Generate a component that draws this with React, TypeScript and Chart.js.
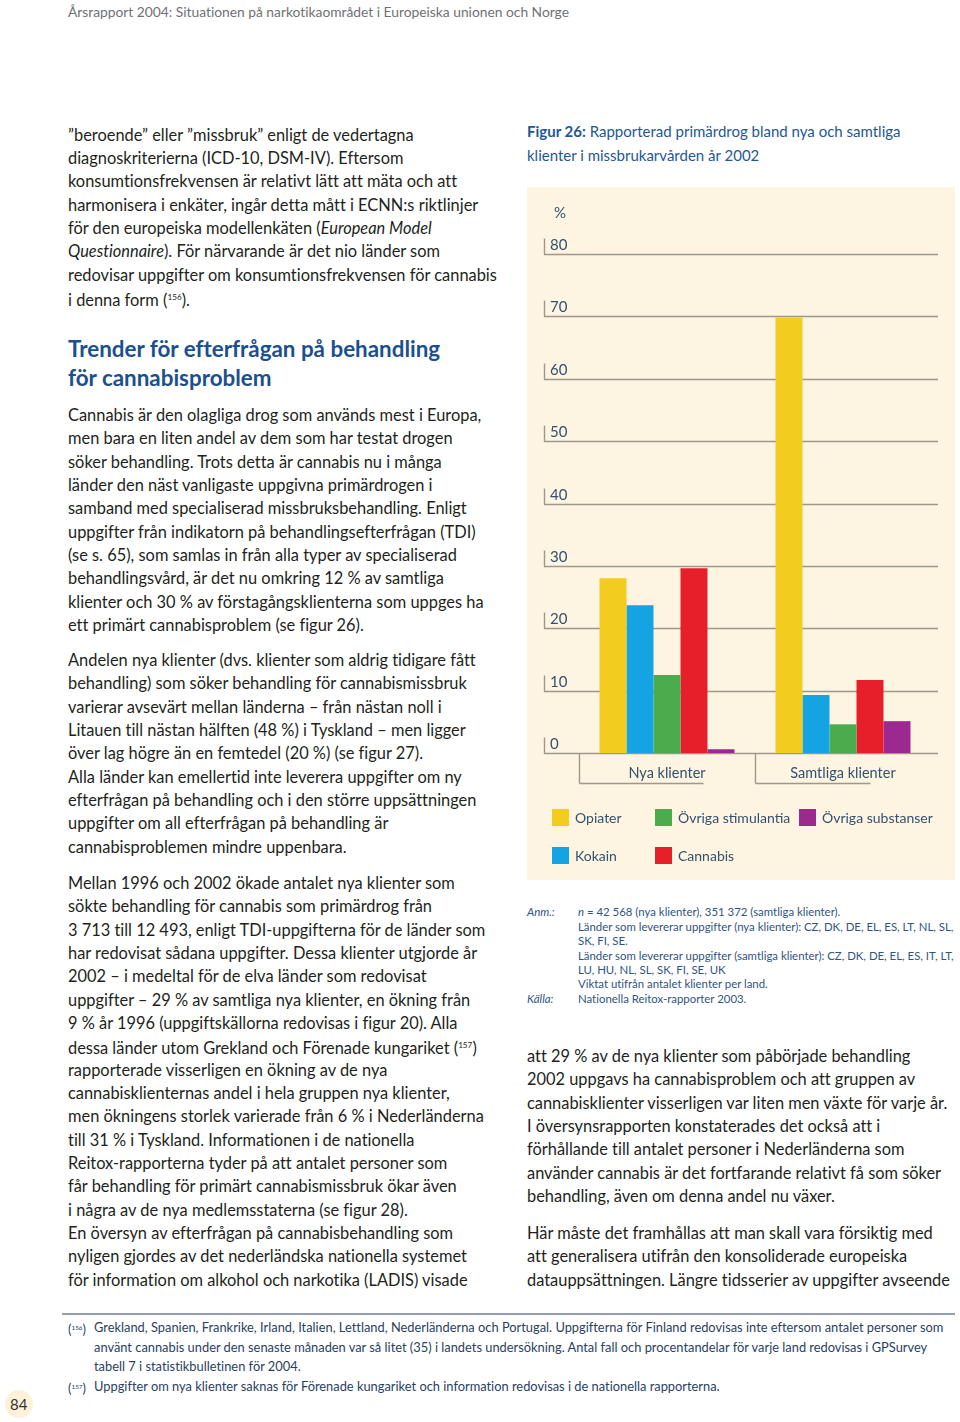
import React, { useEffect, useRef } from "react";
import { Chart, registerables } from "chart.js";

Chart.register(...registerables);

// ---------- Chart data ----------
const categories = ["Nya klienter", "Samtliga klienter"];
const seriesLabels = ["Opiater", "Kokain", "Övriga stimulantia", "Cannabis", "Övriga substanser"];
const opiater = [28.0, 69.8];
const kokain = [23.7, 9.3];
const ovrigaStimulantia = [12.5, 4.6];
const cannabis = [29.6, 11.7];
const ovrigaSubstanser = [0.6, 5.1];
const yTicks = [0, 10, 20, 30, 40, 50, 60, 70, 80];

const seriesValues = [opiater, kokain, ovrigaStimulantia, cannabis, ovrigaSubstanser];
const seriesColors = ["#f2cd1f", "#14a4e4", "#4bac4d", "#e61f2b", "#9b2990"];

const FONT = "Lato, 'Noto Sans', sans-serif";
const TICK_COLOR = "#34506e";
const GRID_COLOR = "#9d988a";

const decorPlugin = {
  id: "decor",
  beforeDatasetsDraw(chart: any) {
    const { ctx, chartArea: a, scales } = chart;
    const x = scales.x;
    const y = scales.y;
    const left = a.left - 35;
    const right = a.right + 7;
    const line = (x1: number, y1: number, x2: number, y2: number) => {
      ctx.beginPath();
      ctx.moveTo(x1, y1);
      ctx.lineTo(x2, y2);
      ctx.stroke();
    };
    ctx.save();
    ctx.strokeStyle = GRID_COLOR;
    ctx.lineWidth = 1.4;
    ctx.fillStyle = TICK_COLOR;
    ctx.font = `15px ${FONT}`;
    ctx.textBaseline = "alphabetic";
    ctx.textAlign = "left";
    yTicks.forEach((v) => {
      const py = Math.round(y.getPixelForValue(v)) + 0.5;
      line(left, py, right, py);
      line(left + 0.5, py - 16, left + 0.5, py);
      ctx.fillText(String(v), left + 6, py - 5);
    });
    ctx.fillText("%", left + 10, y.getPixelForValue(80) - 36);

    // category brackets + labels
    const y0 = Math.round(y.getPixelForValue(0)) + 0.5;
    const half = (a.right - a.left) / categories.length / 2;
    const bracketLen = [124, 115];
    ctx.font = `14.5px ${FONT}`;
    categories.forEach((c, i) => {
      const cx = x.getPixelForValue(i);
      const bx = Math.round(cx - half) + 0.5;
      const by = y0 + 30;
      line(bx, y0, bx, by);
      line(bx, by, bx + bracketLen[i], by);
      ctx.textAlign = "center";
      ctx.fillText(c, cx, y0 + 24);
    });

    // legend (column-major, 2 rows)
    const colX = [25, 128, 272];
    const rowY = [622, 660];
    ctx.textAlign = "left";
    ctx.font = `14px ${FONT}`;
    chart.data.datasets.forEach((ds: any, i: number) => {
      const col = Math.floor(i / 2);
      const row = i % 2;
      const sx = colX[col];
      const sy = rowY[row];
      ctx.fillStyle = ds.backgroundColor;
      ctx.fillRect(sx, sy, 17, 17);
      ctx.fillStyle = TICK_COLOR;
      ctx.fillText(ds.label, sx + 23, sy + 13.5);
    });
    ctx.restore();
  },
};

function ChartPanel() {
  const ref = useRef<HTMLCanvasElement>(null);
  useEffect(() => {
    const chart = new Chart(ref.current as HTMLCanvasElement, {
      type: "bar",
      data: {
        labels: categories,
        datasets: seriesLabels.map((l, i) => ({
          label: l,
          data: seriesValues[i],
          backgroundColor: seriesColors[i],
          borderWidth: 0,
          categoryPercentage: 0.767,
          barPercentage: 1,
        })),
      },
      options: {
        animation: false,
        responsive: false,
        maintainAspectRatio: false,
        devicePixelRatio: 1,
        layout: { padding: { left: 52, right: 24, top: 67, bottom: 127 } },
        scales: {
          x: { display: false, offset: true },
          y: { display: false, min: 0, max: 80 },
        },
        plugins: { legend: { display: false }, tooltip: { enabled: false } },
      },
      plugins: [decorPlugin],
    } as any);
    return () => chart.destroy();
  }, []);
  return (
    <canvas
      ref={ref}
      width={428}
      height={693}
      style={{ position: "absolute", left: 527, top: 187, width: 428, height: 693, display: "block" }}
    />
  );
}

// ---------- Page text ----------
const para1 = [
  "”beroende” eller ”missbruk” enligt de vedertagna",
  "diagnoskriterierna (ICD-10, DSM-IV). Eftersom",
  "konsumtionsfrekvensen är relativt lätt att mäta och att",
  "harmonisera i enkäter, ingår detta mått i ECNN:s riktlinjer",
  "för den europeiska modellenkäten (_European Model_",
  "_Questionnaire_). För närvarande är det nio länder som",
  "redovisar uppgifter om konsumtionsfrekvensen för cannabis",
  "i denna form (^156^).",
];
const heading = ["Trender för efterfrågan på behandling", "för cannabisproblem"];
const para2 = [
  "Cannabis är den olagliga drog som används mest i Europa,",
  "men bara en liten andel av dem som har testat drogen",
  "söker behandling. Trots detta är cannabis nu i många",
  "länder den näst vanligaste uppgivna primärdrogen i",
  "samband med specialiserad missbruksbehandling. Enligt",
  "uppgifter från indikatorn på behandlingsefterfrågan (TDI)",
  "(se s. 65), som samlas in från alla typer av specialiserad",
  "behandlingsvård, är det nu omkring 12 % av samtliga",
  "klienter och 30 % av förstagångsklienterna som uppges ha",
  "ett primärt cannabisproblem (se figur 26).",
];
const para3 = [
  "Andelen nya klienter (dvs. klienter som aldrig tidigare fått",
  "behandling) som söker behandling för cannabismissbruk",
  "varierar avsevärt mellan länderna – från nästan noll i",
  "Litauen till nästan hälften (48 %) i Tyskland – men ligger",
  "över lag högre än en femtedel (20 %) (se figur 27).",
  "Alla länder kan emellertid inte leverera uppgifter om ny",
  "efterfrågan på behandling och i den större uppsättningen",
  "uppgifter om all efterfrågan på behandling är",
  "cannabisproblemen mindre uppenbara.",
];
const para4 = [
  "Mellan 1996 och 2002 ökade antalet nya klienter som",
  "sökte behandling för cannabis som primärdrog från",
  "3 713 till 12 493, enligt TDI-uppgifterna för de länder som",
  "har redovisat sådana uppgifter. Dessa klienter utgjorde år",
  "2002 – i medeltal för de elva länder som redovisat",
  "uppgifter – 29 % av samtliga nya klienter, en ökning från",
  "9 % år 1996 (uppgiftskällorna redovisas i figur 20). Alla",
  "dessa länder utom Grekland och Förenade kungariket (^157^)",
  "rapporterade visserligen en ökning av de nya",
  "cannabisklienternas andel i hela gruppen nya klienter,",
  "men ökningens storlek varierade från 6 % i Nederländerna",
  "till 31 % i Tyskland. Informationen i de nationella",
  "Reitox-rapporterna tyder på att antalet personer som",
  "får behandling för primärt cannabismissbruk ökar även",
  "i några av de nya medlemsstaterna (se figur 28).",
  "En översyn av efterfrågan på cannabisbehandling som",
  "nyligen gjordes av det nederländska nationella systemet",
  "för information om alkohol och narkotika (LADIS) visade",
];
const para5 = [
  "att 29 % av de nya klienter som påbörjade behandling",
  "2002 uppgavs ha cannabisproblem och att gruppen av",
  "cannabisklienter visserligen var liten men växte för varje år.",
  "I översynsrapporten konstaterades det också att i",
  "förhållande till antalet personer i Nederländerna som",
  "använder cannabis är det fortfarande relativt få som söker",
  "behandling, även om denna andel nu växer.",
];
const para6 = [
  "Här måste det framhållas att man skall vara försiktig med",
  "att generalisera utifrån den konsoliderade europeiska",
  "datauppsättningen. Längre tidsserier av uppgifter avseende",
];
const figTitle = ["~Figur 26:~ Rapporterad primärdrog bland nya och samtliga", "klienter i missbrukarvården år 2002"];
const noteLines = [
  "_n_ = 42 568 (nya klienter), 351 372 (samtliga klienter).",
  "Länder som levererar uppgifter (nya klienter): CZ, DK, DE, EL, ES, LT, NL, SL,",
  "SK, FI, SE.",
  "Länder som levererar uppgifter (samtliga klienter): CZ, DK, DE, EL, ES, IT, LT,",
  "LU, HU, NL, SL, SK, FI, SE, UK",
  "Viktat utifrån antalet klienter per land.",
  "Nationella Reitox-rapporter 2003.",
];
const foot156 = [
  "Grekland, Spanien, Frankrike, Irland, Italien, Lettland, Nederländerna och Portugal. Uppgifterna för Finland redovisas inte eftersom antalet personer som",
  "använt cannabis under den senaste månaden var så litet (35) i landets undersökning. Antal fall och procentandelar för varje land redovisas i GPSurvey",
  "tabell 7 i statistikbulletinen för 2004.",
];
const foot157 = ["Uppgifter om nya klienter saknas för Förenade kungariket och information redovisas i de nationella rapporterna."];

function renderRich(s: string) {
  const parts = s.split(/(_[^_]+_|\^[^^]+\^|~[^~]+~)/).filter((p) => p.length);
  return parts.map((p, i) => {
    if (p.startsWith("_") && p.endsWith("_")) return <i key={i}>{p.slice(1, -1)}</i>;
    if (p.startsWith("^") && p.endsWith("^"))
      return (
        <span key={i} style={{ fontSize: "0.5em", verticalAlign: "0.7em" }}>
          {p.slice(1, -1)}
        </span>
      );
    if (p.startsWith("~") && p.endsWith("~")) return <b key={i}>{p.slice(1, -1)}</b>;
    return <span key={i}>{p}</span>;
  });
}

type BlockProps = {
  x: number;
  baseline: number;
  lh: number;
  size: number;
  lines: string[];
  color?: string;
  weight?: number;
  family?: string;
  italic?: boolean;
};

function TextBlock({ x, baseline, lh, size, lines, color = "#231f20", weight = 400, family = FONT, italic }: BlockProps) {
  const off = (lh - 1.2 * size) / 2 + 0.987 * size;
  return (
    <>
      {lines.map((l, i) => (
        <div
          key={i}
          style={{
            position: "absolute",
            left: x,
            top: baseline + i * lh - off,
            height: lh,
            lineHeight: `${lh}px`,
            fontSize: size,
            fontFamily: family,
            fontWeight: weight,
            fontStyle: italic ? "italic" : "normal",
            fontVariantLigatures: "none",
            color,
            whiteSpace: "nowrap",
          }}
        >
          {renderRich(l)}
        </div>
      ))}
    </>
  );
}

export default function App() {
  const BODY = 16.4;
  const LH = 23.33;
  return (
    <div style={{ position: "absolute", left: 0, top: 0, width: 960, height: 1422, background: "#ffffff", overflow: "hidden" }}>
      <TextBlock x={68} baseline={17} lh={18} size={13.8} color="#707174" lines={["Årsrapport 2004: Situationen på narkotikaområdet i Europeiska unionen och Norge"]} />

      <TextBlock x={68} baseline={140.7} lh={LH} size={BODY} lines={para1} />
      <TextBlock x={68} baseline={357} lh={29} size={22.4} weight={700} color="#1b4f8d" lines={heading} />
      <TextBlock x={68} baseline={421} lh={LH} size={BODY} lines={para2} />
      <TextBlock x={68} baseline={666} lh={LH} size={BODY} lines={para3} />
      <TextBlock x={68} baseline={889} lh={LH} size={BODY} lines={para4} />

      <TextBlock x={527} baseline={138} lh={23.5} size={15} color="#1f5794" lines={figTitle} />

      <div style={{ position: "absolute", left: 527, top: 187, width: 428, height: 693, background: "#fdf5e2" }} />
      <ChartPanel />

      <TextBlock x={527} baseline={917} lh={14.4} size={11.4} color="#2f5482" italic lines={["Anm.:"]} />
      <TextBlock x={578} baseline={917} lh={14.4} size={11.4} color="#2f5482" lines={noteLines.slice(0, 6)} />
      <TextBlock x={527} baseline={917 + 6 * 14.4} lh={14.4} size={11.4} color="#2f5482" italic lines={["Källa:"]} />
      <TextBlock x={578} baseline={917 + 6 * 14.4} lh={14.4} size={11.4} color="#2f5482" lines={noteLines.slice(6)} />

      <TextBlock x={527} baseline={1062} lh={LH} size={BODY} lines={para5} />
      <TextBlock x={527} baseline={1239} lh={LH} size={BODY} lines={para6} />

      <div style={{ position: "absolute", left: 62, top: 1313, width: 893, height: 1.5, background: "#8ea1b8" }} />
      <TextBlock x={68} baseline={1333} lh={19.5} size={12.85} color="#2a3f5f" lines={["(^156^)"]} />
      <TextBlock x={94} baseline={1333} lh={19.5} size={12.85} color="#2a3f5f" lines={foot156} />
      <TextBlock x={68} baseline={1392} lh={19.5} size={12.85} color="#2a3f5f" lines={["(^157^)"]} />
      <TextBlock x={94} baseline={1392} lh={19.5} size={12.85} color="#2a3f5f" lines={foot157} />

      <div style={{ position: "absolute", left: 5, top: 1390, width: 28, height: 28, borderRadius: 14, background: "#fdf2d9" }} />
      <TextBlock x={10} baseline={1410} lh={18} size={15} color="#333333" lines={["84"]} />
    </div>
  );
}
